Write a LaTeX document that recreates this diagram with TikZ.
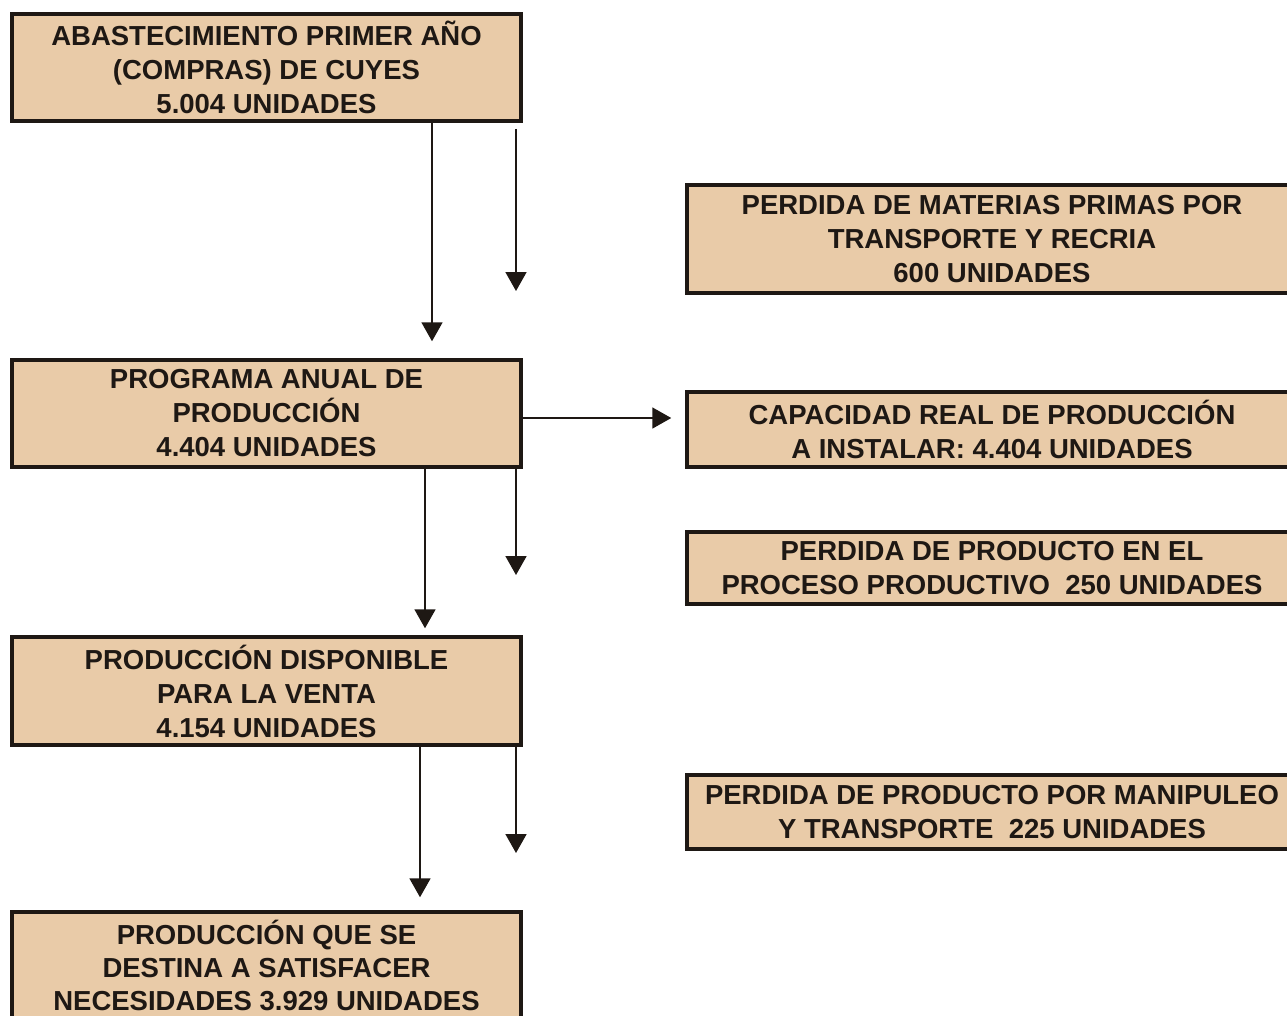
\documentclass[tikz,border=0pt]{standalone}
\usepackage{fontspec}
\setmainfont{Liberation Sans}
\usetikzlibrary{arrows.meta}
\definecolor{boxfill}{RGB}{233,203,168}
\definecolor{ink}{RGB}{30,24,20}
\begin{document}
\begin{tikzpicture}[x=1pt,y=-1pt,
  box/.style={draw=ink, line width=3.5pt, fill=boxfill, align=center,
    font=\fontsize{27.5}{34}\selectfont\bfseries, text=ink, inner sep=0pt},
  lbox/.style={box, minimum width=509pt},
  rbox/.style={box, minimum width=610pt},
  arr/.style={draw=ink, line width=1.8pt, -{Triangle[length=19pt,width=21pt]}}]
\useasboundingbox (0,0) rectangle (1287,1015);
\clip (0,0) rectangle (1287,1015);
\fill[white] (0,0) rectangle (1287,1015);

\node[lbox, minimum height=107pt] (b1) at (266.5,67.5)
  {ABASTECIMIENTO PRIMER AÑO\\(COMPRAS) DE CUYES\\5.004 UNIDADES};
\node[lbox, minimum height=107pt] (b2) at (266.5,413.5)
  {PROGRAMA ANUAL DE\\PRODUCCIÓN\\4.404 UNIDADES};
\node[lbox, minimum height=108pt] (b3) at (266.5,691)
  {PRODUCCIÓN DISPONIBLE\\PARA LA VENTA\\4.154 UNIDADES};
\node[lbox, minimum height=107pt, font=\fontsize{27.5}{33}\selectfont\bfseries] (b4) at (266.5,965.5)
  {PRODUCCIÓN QUE SE\\DESTINA A SATISFACER\\NECESIDADES 3.929 UNIDADES};

\node[rbox, minimum height=108pt] (rA) at (992,239)
  {PERDIDA DE MATERIAS PRIMAS POR\\TRANSPORTE Y RECRIA\\600 UNIDADES};
\node[rbox, minimum height=75pt] (rB) at (992,429.5)
  {CAPACIDAD REAL DE PRODUCCIÓN\\A INSTALAR: 4.404 UNIDADES};
\node[rbox, minimum height=72pt] (rC) at (992,568)
  {PERDIDA DE PRODUCTO EN EL\\PROCESO PRODUCTIVO\ \ 250 UNIDADES};
\node[rbox, minimum height=74pt] (rD) at (992,812)
  {PERDIDA DE PRODUCTO POR MANIPULEO\\Y TRANSPORTE\ \ 225 UNIDADES};

\coordinate (e1) at (516,291);
\coordinate (e2) at (516,575);
\coordinate (e3) at (516,853);

% main flow
\draw[arr] ([xshift=165.5pt]b1.south) -- ([xshift=165.5pt,yshift=17pt]b2.north);
\draw[arr] ([xshift=158.5pt]b2.south) -- ([xshift=158.5pt,yshift=7pt]b3.north);
\draw[arr] ([xshift=153.5pt]b3.south) -- ([xshift=153.5pt,yshift=13pt]b4.north);

% loss arrows
\draw[arr] ([xshift=249.5pt,yshift=-6pt]b1.south) -- (e1);
\draw[arr] ([xshift=249.5pt]b2.south) -- (e2);
\draw[arr] ([xshift=249.5pt]b3.south) -- (e3);

% capacity arrow
\draw[arr] ([yshift=-4.5pt]b2.east) -- ([xshift=-14pt,yshift=11.5pt]rB.west);
\end{tikzpicture}
\end{document}
